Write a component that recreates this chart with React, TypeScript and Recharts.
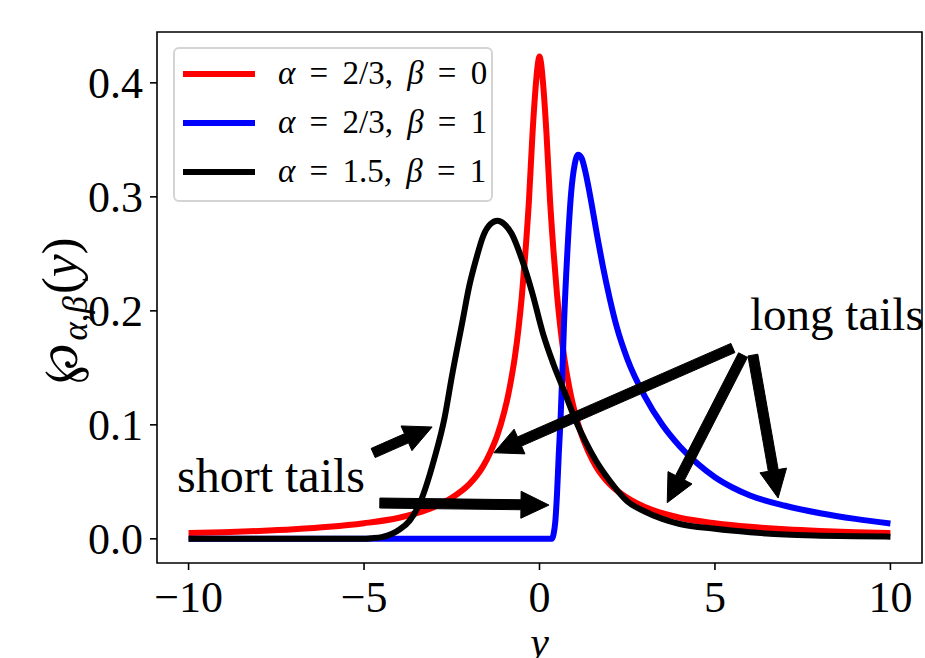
import React from "react";
import {
  LineChart,
  Line,
  XAxis,
  YAxis,
  ReferenceLine,
  ReferenceArea,
  ReferenceDot,
  Legend,
} from "recharts";

// axes
const X_DOMAIN: [number, number] = [-10.9, 10.9];
const Y_DOMAIN: [number, number] = [-0.0212, 0.4446];
const X_TICKS = [-10, -5, 0, 5, 10];
const Y_TICKS = [0, 0.1, 0.2, 0.3, 0.4];

// alpha = 2/3, beta = 0 (symmetric)
const RED_X = [
  -10, -9, -8, -7, -6, -5, -4, -3.5, -3, -2.5, -2, -1.8, -1.6, -1.4, -1.2, -1,
  -0.9, -0.8, -0.7, -0.6, -0.5, -0.4, -0.3, -0.2, -0.1, -0.05, 0, 0.05, 0.1,
  0.2, 0.3, 0.4, 0.5, 0.6, 0.7, 0.8, 0.9, 1, 1.2, 1.4, 1.6, 1.8, 2, 2.5, 3,
  3.5, 4, 5, 6, 7, 8, 9, 10,
];
const RED_Y = [
  0.005, 0.0058, 0.0069, 0.0084, 0.0105, 0.0137, 0.0185, 0.0225, 0.028, 0.036,
  0.048, 0.055, 0.064, 0.076, 0.091, 0.112, 0.125, 0.141, 0.16, 0.184, 0.214,
  0.252, 0.297, 0.355, 0.4, 0.416, 0.423, 0.416, 0.4, 0.355, 0.297, 0.252,
  0.214, 0.184, 0.16, 0.141, 0.125, 0.112, 0.091, 0.076, 0.064, 0.055, 0.048,
  0.036, 0.028, 0.0225, 0.0185, 0.0137, 0.0105, 0.0084, 0.0069, 0.0058, 0.005,
];

// alpha = 2/3, beta = 1
const BLUE_X = [
  -10, -5, 0, 0.35, 0.4, 0.45, 0.5, 0.55, 0.6, 0.65, 0.7, 0.8, 0.9, 1, 1.1,
  1.2, 1.3, 1.4, 1.66, 1.8, 2, 2.2, 2.5, 3, 3.5, 4, 4.5, 5, 5.5, 6, 7, 8, 9,
  10,
];
const BLUE_Y = [
  0, 0, 0, 0, 0.004, 0.015, 0.04, 0.075, 0.105, 0.145, 0.19, 0.255, 0.303,
  0.328, 0.337, 0.334, 0.323, 0.308, 0.263, 0.24, 0.211, 0.186, 0.158, 0.125,
  0.1, 0.081, 0.066, 0.054, 0.045, 0.038, 0.029, 0.0225, 0.0175, 0.0135,
];

// alpha = 1.5, beta = 1
const BLACK_X = [
  -10, -5, -4.8, -4.5, -4.2, -4, -3.7, -3.4, -3, -2.7, -2.5, -2.2, -2, -1.8,
  -1.6, -1.4, -1.2, -1, -0.8, -0.5, -0.2, 0.1, 0.4, 0.7, 1, 1.3, 1.6, 2, 2.5,
  3, 3.5, 4, 5, 6, 7, 8, 9, 10,
];
const BLACK_Y = [
  0, 0, 0.0005, 0.0015, 0.0045, 0.008, 0.016, 0.032, 0.07, 0.107, 0.142, 0.19,
  0.222, 0.246, 0.266, 0.276, 0.279, 0.276, 0.268, 0.245, 0.215, 0.18, 0.153,
  0.13, 0.106, 0.086, 0.069, 0.051, 0.033, 0.024, 0.0175, 0.013, 0.0088,
  0.0058, 0.0037, 0.0028, 0.0023, 0.0019,
];

const SERIES_NAMES = ["α = 2/3, β = 0", "α = 2/3, β = 1", "α = 1.5, β = 1"];
const SERIES_COLORS = ["#ff0000", "#0000ff", "#000000"];

// annotations, in data units: [tailX, tailY, tipX, tipY]
const SHORT_ARROWS = [
  [-4.74, 0.0753, -3.06, 0.0981],
  [-4.55, 0.0314, 0.27, 0.0296],
];
const LONG_ARROWS = [
  [5.51, 0.1674, -1.3, 0.0755],
  [5.8, 0.1612, 3.64, 0.0317],
  [6.08, 0.1612, 6.8, 0.0358],
];
const SHORT_LABEL = { x: -10.33, y: 0.041, text: "short tails" };
const LONG_LABEL = { x: 6.0, y: 0.183, text: "long tails" };

const FONT = "'Liberation Serif', 'DejaVu Serif', serif";

const toPoints = (xs: number[], ys: number[]) =>
  xs.map((x, i) => ({ x, y: ys[i] }));

const redData = toPoints(RED_X, RED_Y);
const blueData = toPoints(BLUE_X, BLUE_Y);
const blackData = toPoints(BLACK_X, BLACK_Y);

const fmtX = (v: number) => (v < 0 ? `\u2212${Math.abs(v)}` : String(v));

// thick matplotlib-style arrow drawn between the two segment ends
const arrowShape = (p: any) => {
  const { x1, y1, x2, y2 } = p;
  const dx = x2 - x1;
  const dy = y2 - y1;
  const len = Math.hypot(dx, dy) || 1;
  const ux = dx / len;
  const uy = dy / len;
  const nx = -uy;
  const ny = ux;
  const w = 5;
  const hw = 13.5;
  const hl = 28;
  const bx = x2 - ux * hl;
  const by = y2 - uy * hl;
  const pts = [
    [x1 + nx * w, y1 + ny * w],
    [bx + nx * w, by + ny * w],
    [bx + nx * hw, by + ny * hw],
    [x2, y2],
    [bx - nx * hw, by - ny * hw],
    [bx - nx * w, by - ny * w],
    [x1 - nx * w, y1 - ny * w],
  ];
  return (
    <polygon
      points={pts.map((q) => q.join(",")).join(" ")}
      fill="#000"
      stroke="#000"
      strokeWidth={1}
    />
  );
};

const textShape = (text: string, size: number) => (p: any) => (
  <text x={p.cx} y={p.cy} fontSize={size} fontFamily={FONT} fill="#000">
    {text}
  </text>
);

const mathText = (s: string) =>
  s.split("").map((ch, i) =>
    ch === "α" || ch === "β" ? <i key={i}>{ch}</i> : <span key={i}>{ch}</span>
  );

const renderLegend = () => (
  <div
    style={{
      boxSizing: "border-box",
      width: 320,
      height: 155,
      border: "2px solid #d4d4d4",
      borderRadius: 6,
      background: "rgba(255,255,255,0.8)",
      fontFamily: FONT,
      fontSize: 33,
      color: "#000",
    }}
  >
    {SERIES_NAMES.map((name, i) => (
      <div
        key={name}
        style={{ height: 49, display: "flex", alignItems: "center", paddingLeft: 8 }}
      >
        <div style={{ width: 72, height: 6, background: SERIES_COLORS[i], marginRight: 23 }} />
        <div style={{ whiteSpace: "pre", wordSpacing: 6, lineHeight: "49px" }}>
          {mathText(name)}
        </div>
      </div>
    ))}
  </div>
);

const renderYLabel = (props: any) => {
  const vb = props.viewBox || { x: 57, y: 32, width: 100, height: 531 };
  const cx = vb.x + 20;
  const cy = vb.y + vb.height / 2 + 13;
  return (
    <text
      transform={`translate(${cx},${cy}) rotate(-90)`}
      textAnchor="middle"
      fontFamily={FONT}
      fontSize={51}
      fill="#000"
    >
      <tspan fontFamily="'DejaVu Serif', serif" fontSize={49}>℘</tspan>
      <tspan fontSize={35} dy={10} dx={2} fontStyle="italic">
        α,β
      </tspan>
      <tspan dy={-10} dx={2}>(</tspan>
      <tspan fontStyle="italic">y</tspan>
      <tspan>)</tspan>
    </text>
  );
};

const renderXLabel = (props: any) => {
  const vb = props.viewBox || { x: 157, y: 563, width: 765, height: 95 };
  return (
    <text
      x={vb.x + vb.width / 2}
      y={vb.y + 93}
      textAnchor="middle"
      fontFamily={FONT}
      fontSize={42}
      fontStyle="italic"
      fill="#000"
    >
      y
    </text>
  );
};

export default function App() {
  return (
    <div style={{ width: 925, height: 658, background: "#fff" }}>
      <style>{`body{margin:0}`}</style>
      <LineChart
        width={925}
        height={658}
        margin={{ top: 32, right: 3, left: 57, bottom: 0 }}
      >
        <XAxis
          dataKey="x"
          type="number"
          domain={X_DOMAIN}
          ticks={X_TICKS}
          allowDataOverflow
          height={95}
          axisLine={false}
          tickSize={7}
          tickMargin={11}
          tickLine={{ stroke: "#000", strokeWidth: 1.6 }}
          tick={{ fill: "#000", fontSize: 44, fontFamily: FONT }}
          tickFormatter={fmtX}
          label={renderXLabel}
        />
        <YAxis
          type="number"
          domain={Y_DOMAIN}
          ticks={Y_TICKS}
          allowDataOverflow
          width={100}
          axisLine={false}
          tickSize={7}
          tickMargin={7}
          tickLine={{ stroke: "#000", strokeWidth: 1.6 }}
          tick={{ fill: "#000", fontSize: 44, fontFamily: FONT }}
          tickFormatter={(v: number) => v.toFixed(1)}
          label={renderYLabel}
        />
        <ReferenceArea
          x1={X_DOMAIN[0]}
          x2={X_DOMAIN[1]}
          y1={Y_DOMAIN[0]}
          y2={Y_DOMAIN[1]}
          fill="none"
          fillOpacity={0}
          stroke="#000"
          strokeWidth={1.6}
          ifOverflow="visible"
        />
        <Line
          data={redData}
          dataKey="y"
          name={SERIES_NAMES[0]}
          type="monotone"
          stroke={SERIES_COLORS[0]}
          strokeWidth={6}
          dot={false}
          isAnimationActive={false}
        />
        <Line
          data={blueData}
          dataKey="y"
          name={SERIES_NAMES[1]}
          type="monotone"
          stroke={SERIES_COLORS[1]}
          strokeWidth={6}
          dot={false}
          isAnimationActive={false}
        />
        <Line
          data={blackData}
          dataKey="y"
          name={SERIES_NAMES[2]}
          type="monotone"
          stroke={SERIES_COLORS[2]}
          strokeWidth={6}
          dot={false}
          isAnimationActive={false}
        />
        {[...SHORT_ARROWS, ...LONG_ARROWS].map((a, i) => (
          <ReferenceLine
            key={`arrow-${i}`}
            segment={[
              { x: a[0], y: a[1] },
              { x: a[2], y: a[3] },
            ]}
            shape={arrowShape}
            ifOverflow="visible"
          />
        ))}
        <ReferenceDot
          x={SHORT_LABEL.x}
          y={SHORT_LABEL.y}
          r={2}
          ifOverflow="visible"
          shape={textShape(SHORT_LABEL.text, 48)}
        />
        <ReferenceDot
          x={LONG_LABEL.x}
          y={LONG_LABEL.y}
          r={2}
          ifOverflow="visible"
          shape={textShape(LONG_LABEL.text, 47)}
        />
        <Legend
          content={renderLegend}
          layout="horizontal"
          verticalAlign="middle"
          align="center"
          wrapperStyle={{ left: 173, top: 47, width: 320, height: 155 }}
        />
      </LineChart>
    </div>
  );
}
